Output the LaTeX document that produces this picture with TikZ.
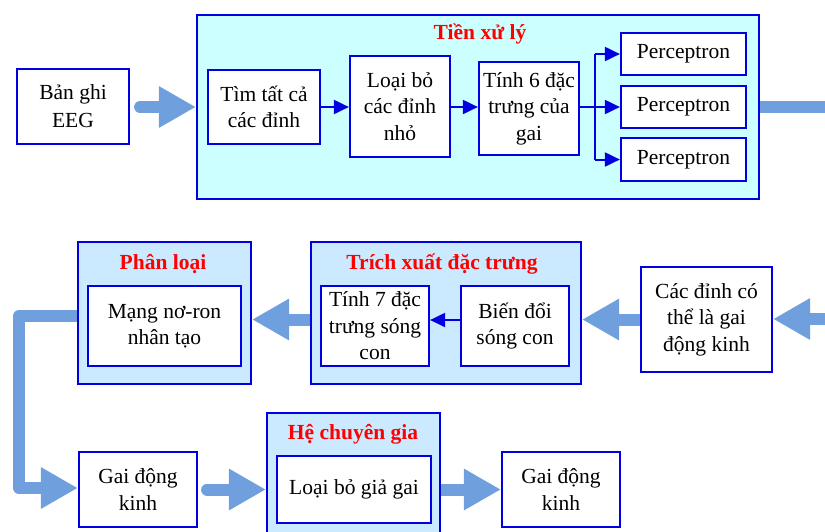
\documentclass[tikz,border=0pt]{standalone}
\usepackage{fontspec}
\setmainfont{Liberation Serif}
\usetikzlibrary{arrows.meta,calc}
\definecolor{bblue}{RGB}{0,0,225}
\definecolor{cyanfill}{RGB}{204,255,255}
\definecolor{lbfill}{RGB}{204,234,255}
\definecolor{arrblue}{RGB}{111,159,220}
\definecolor{tred}{RGB}{255,0,0}
\newcommand{\fsz}{\fontsize{21.5}{26.5}\selectfont}
\tikzset{
  box/.style={draw=bblue, line width=2.2pt, fill=white, align=center, inner sep=0pt, font=\fsz},
  cont/.style={draw=bblue, line width=2.2pt, inner sep=0pt},
  ttl/.style={text=tred, font=\fsz\bfseries, inner sep=0pt},
  thinarr/.style={draw=bblue, line width=2pt, -{Triangle[length=15pt,width=14pt]}},
  thinline/.style={draw=bblue, line width=2pt},
  bigarr/.style={draw=arrblue, line width=12pt, line cap=round, -{Triangle[length=37pt,width=39pt]}},
  bigline/.style={draw=arrblue, line width=11.5pt}
}
\begin{document}
\begin{tikzpicture}[x=1pt,y=-1pt]
\useasboundingbox (0,0) rectangle (825,531);
\clip (0,0) rectangle (825,531);
% Row 1
\node[box, minimum width=112pt, minimum height=75pt, font=\fontsize{21.5}{28}\selectfont] (eeg) at (73,106.5) {Bản ghi\\EEG};
\node[cont, fill=cyanfill, minimum width=562pt, minimum height=184pt] (pre) at (478,107) {};
\node[ttl] (pret) at (480,34) {Tiền xử lý};
\node[box, minimum width=112pt, minimum height=74pt] (find) at (264,107) {Tìm tất cả\\các đỉnh};
\node[box, minimum width=100pt, minimum height=101pt] (rem) at (400,106.5) {Loại bỏ\\các đỉnh\\nhỏ};
\node[box, minimum width=100pt, minimum height=93pt] (f6) at (529,108.5) {Tính 6 đặc\\trưng của\\gai};
\node[box, minimum width=125pt, minimum height=42pt] (p1) at (683.5,54) {Perceptron};
\node[box, minimum width=125pt, minimum height=42pt] (p2) at (683.5,107) {Perceptron};
\node[box, minimum width=125pt, minimum height=43pt] (p3) at (683.5,159.5) {Perceptron};
\coordinate (br) at (595,107);
\coordinate (outr) at (830,107);
\draw[bigarr] ($(eeg.east)+(10,0.5)$) -- (pre.west);
\draw[thinarr] (find.east) -- (rem.west |- find.east);
\draw[thinarr] (rem.east |- br) -- (f6.west |- br);
\draw[thinline] (f6.east |- br) -- (br);
\draw[thinarr] (br) -- (p2.west |- br);
\draw[thinline] (br |- p1.west) -- (br |- p3.west);
\draw[thinarr] (br |- p1.west) -- (p1.west);
\draw[thinarr] (br |- p3.west) -- (p3.west);
\draw[bigline] (pre.east) -- (outr);
% Row 2
\node[cont, fill=lbfill, minimum width=173pt, minimum height=142pt] (cls) at (164.5,313) {};
\node[ttl] (clst) at (163,264) {Phân loại};
\node[box, minimum width=153pt, minimum height=80pt] (ann) at (164.5,326) {Mạng nơ-ron\\nhân tạo};
\node[cont, fill=lbfill, minimum width=270pt, minimum height=142pt] (ext) at (446,313) {};
\node[ttl] (extt) at (442,264) {Trích xuất đặc trưng};
\node[box, minimum width=108pt, minimum height=80pt] (f7) at (375,326) {Tính 7 đặc\\trưng sóng\\con};
\node[box, minimum width=108pt, minimum height=80pt] (wt) at (515,326) {Biến đổi\\sóng con};
\node[box, minimum width=131pt, minimum height=105pt] (cand) at (706.5,319.5) {Các đỉnh có\\thể là gai\\động kinh};
\coordinate (inr) at (830,319);
\draw[bigarr, line cap=butt] (inr) -- (cand.east |- inr);
\draw[bigarr, line cap=butt] (cand.west) -- (ext.east |- cand.west);
\draw[bigarr, line cap=butt] (ext.west |- cand.west) -- (cls.east |- cand.west);
\draw[thinarr] ($(wt.west)+(0,-6)$) -- ($(f7.east)+(0,-6)$);
% Row 3
\node[box, minimum width=118pt, minimum height=75pt] (gai1) at (138,489.5) {Gai động\\kinh};
\node[cont, fill=lbfill, minimum width=173pt, minimum height=150pt, anchor=north] (exp) at (353.5,412) {};
\node[ttl] (expt) at (353,434) {Hệ chuyên gia};
\node[box, minimum width=154pt, minimum height=67pt] (fake) at (354,489.5) {Loại bỏ giả gai};
\node[box, minimum width=118pt, minimum height=75pt] (gai2) at (561,489.5) {Gai động\\kinh};
\coordinate (lc1) at (19,316);
\coordinate (lc2) at (19,488);
\draw[bigarr, line join=round, line cap=butt] (cls.west |- lc1) -- (lc1) -- (lc2) -- (gai1.west |- lc2);
\draw[bigarr] ($(gai1.east)+(9,0)$) -- (exp.west |- gai1.east);
\draw[bigarr, line cap=butt] (exp.east |- gai2.west) -- (gai2.west);
\end{tikzpicture}
\end{document}
